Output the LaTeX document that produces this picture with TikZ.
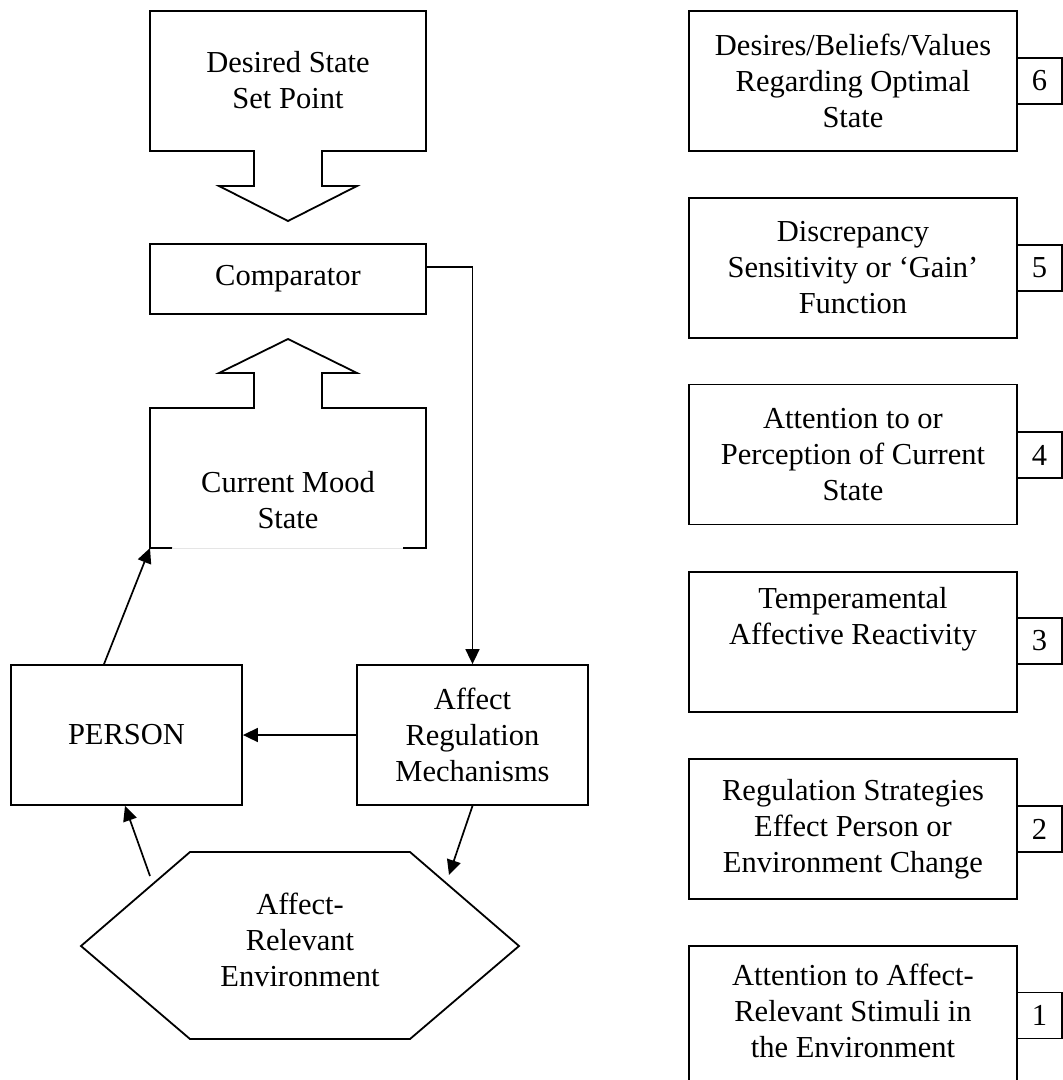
\documentclass[tikz,border=0pt]{standalone}
\usepackage{fontspec}
\setmainfont{Liberation Serif}
\usetikzlibrary{arrows.meta}
\begin{document}
\begin{tikzpicture}[x=1pt,y=-1pt,
  lw/.style={line width=1.8pt},
  txt/.style={align=center, inner sep=0pt, font=\fontsize{30.5}{36}\selectfont},
  box/.style={txt, draw, lw, rectangle, inner sep=0pt},
  bigbox/.style={box, minimum width=328pt, minimum height=140pt},
  numbox/.style={box, minimum width=45pt, minimum height=46pt},
  arr/.style={-{Triangle[length=15pt,width=14pt]}, line width=1.7pt, line join=miter}]
\fill[white] (0,0) rectangle (1063,1080);
\useasboundingbox (0,0) rectangle (1063,1080);

% Desired state block arrow
\draw[lw, line join=miter] (150,11) -- (426,11) -- (426,151) -- (322,151) -- (322,186) -- (357,186)
  -- (288,221) -- (219,186) -- (254,186) -- (254,151) -- (150,151) -- cycle;
\node[txt] (desired) at (288,80) {Desired State\\Set Point};

% Comparator
\node[box, minimum width=276pt, minimum height=70pt] (comp) at (288,279) {Comparator};

% Current mood block arrow
\draw[lw, line join=miter] (403,548) -- (426,548) -- (426,408) -- (322,408) -- (322,373) -- (357,373)
  -- (288,339) -- (219,373) -- (254,373) -- (254,408) -- (150,408) -- (150,548) -- (172,548);
\draw[gray!20, line width=0.8pt] (172,548) -- (403,548);
\coordinate (moodbl) at (150,548);
\node[txt] (mood) at (288,500) {Current Mood\\State};

% PERSON and Affect Regulation Mechanisms
\node[box, minimum width=231pt, minimum height=140pt] (person) at (126.5,735) {PERSON};
\node[box, minimum width=231pt, minimum height=140pt] (arm) at (472.5,735) {Affect\\Regulation\\Mechanisms};

% Hexagon environment
\draw[lw, line join=miter] (81,946) -- (190,852) -- (410,852) -- (519,946) -- (410,1039) -- (190,1039) -- cycle;
\node[txt] (env) at (300,940) {Affect-\\Relevant\\Environment};
\coordinate (envin) at (449,875);
\coordinate (envout) at (150,876);

% Connectors
\draw[arr] ([yshift=12pt]comp.east) -| (arm.north);
\draw[arr] (arm.west) -- (person.east);
\draw[arr] ([xshift=-22.5pt]person.north) -- (moodbl);
\draw[arr] (arm.south) -- (envin);
\draw[arr] (envout) -- ([xshift=-1.5pt]person.south);

% Right column
\node[bigbox] (b6) at (853,81) {Desires/Beliefs/Values\\Regarding Optimal\\State};
\node[bigbox] (b5) at (853,268) {Discrepancy\\Sensitivity or `Gain'\\Function};
\node[bigbox] (b4) at (853,454.5) {Attention to or\\Perception of Current\\State};
\node[bigbox] (b3) at (853,642) {};
\node[txt] (b3t) at (853,619) {Temperamental\\Affective Reactivity};
\node[bigbox] (b2) at (853,829) {Regulation Strategies\\Effect Person or\\Environment Change};
\node[bigbox] (b1) at (853,1016) {};
\node[txt] (b1t) at (853,1011) {Attention to Affect-\\Relevant Stimuli in\\the Environment};

\node[numbox] (n6) at (1039.5,81) {6};
\node[numbox] (n5) at (1039.5,268) {5};
\node[numbox] (n4) at (1039.5,455) {4};
\node[numbox] (n3) at (1039.5,641) {3};
\node[numbox] (n2) at (1039.5,829) {2};
\node[numbox] (n1) at (1039.5,1015.5) {1};
\end{tikzpicture}
\end{document}
